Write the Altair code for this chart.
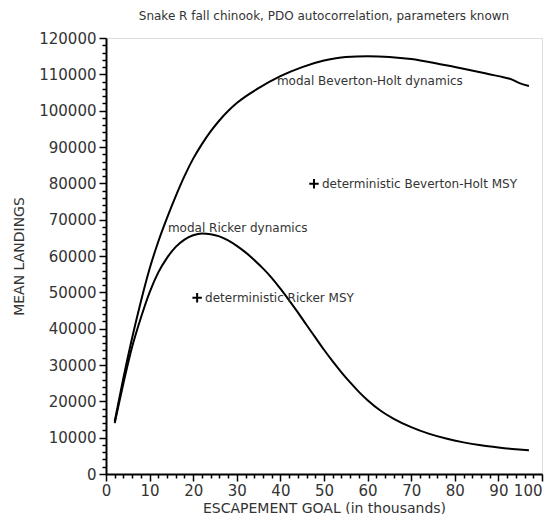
import altair as alt
import pandas as pd

# Beverton-Holt modal dynamics curve
bh_x = [2, 4, 6, 8, 10, 12, 14, 16, 18, 20, 22, 24, 26, 28, 30, 35, 40, 45, 50, 55, 60, 65, 70, 75, 80, 85, 90, 93, 95, 97]
bh_y = [14500, 26500, 37500, 47500, 56500, 64000, 70500, 76500, 82000, 86800, 90800, 94300, 97300, 99900, 102100,
        106200, 109500, 112000, 113800, 114800, 115000, 114800, 114200, 113200, 112000, 110800, 109500, 108600, 107500, 106800]

# Ricker modal dynamics curve
rk_x = [2, 4, 6, 8, 10, 12, 14, 16, 18, 20, 22, 24, 26, 28, 30, 32, 34, 36, 38, 40, 42, 44, 46, 48, 50, 52, 54, 56, 58, 60,
        63, 66, 70, 74, 78, 82, 86, 90, 94, 97]
rk_y = [14000, 25000, 35000, 43000, 50000, 55500, 59500, 62500, 64500, 65700, 66200, 66000, 65400, 64300, 62800, 61000,
        58900, 56600, 54000, 51000, 47800, 44500, 41000, 37600, 34200, 31000, 28000, 25200, 22600, 20300,
        17400, 15200, 12900, 11100, 9750, 8700, 7900, 7300, 6800, 6500]

# deterministic MSY markers
msy_x = [47.7, 20.9]
msy_y = [79900, 48500]
msy_label = ["deterministic Beverton-Holt MSY", "deterministic Ricker MSY"]

# curve labels
lab_x = [39.2, 14.2]
lab_y = [108300, 67800]
lab_text = ["modal Beverton-Holt dynamics", "modal Ricker dynamics"]

x_ticks = list(range(0, 101, 2))
y_ticks = list(range(0, 120001, 2000))

FONT = "DejaVu Sans"
TXT = "#333333"

curves = pd.concat([
    pd.DataFrame({"x": bh_x, "y": bh_y, "model": "Beverton-Holt"}),
    pd.DataFrame({"x": rk_x, "y": rk_y, "model": "Ricker"}),
])
msy = pd.DataFrame({"x": msy_x, "y": msy_y, "label": msy_label})
labs = pd.DataFrame({"x": lab_x, "y": lab_y, "label": lab_text})

xscale = alt.Scale(domain=[0, 100], nice=False, zero=False)
yscale = alt.Scale(domain=[0, 120000], nice=False)

xaxis = alt.Axis(
    values=x_ticks,
    labelExpr="datum.value % 10 === 0 ? datum.label : ''",
    tickSize={"condition": {"test": "datum.value % 10 === 0", "value": 7}, "value": 4},
    labelAlign={"condition": {"test": "datum.value === 100", "value": "right"}, "value": "center"},
    labelOverlap=False,
    labelFlush=False,
    grid=False,
    domainColor="black",
    domainWidth=2,
    tickColor="black",
    tickWidth=1.5,
    labelFont=FONT,
    labelFontSize=15,
    labelColor=TXT,
    labelPadding=2,
    title="ESCAPEMENT GOAL (in thousands)",
    titleFont=FONT,
    titleFontSize=14,
    titleFontWeight="normal",
    titleColor=TXT,
    titlePadding=3,
)
yaxis = alt.Axis(
    values=y_ticks,
    labelExpr="datum.value % 10000 === 0 ? datum.label : ''",
    format="d",
    tickSize={"condition": {"test": "datum.value % 10000 === 0", "value": 7}, "value": 4},
    labelOverlap=False,
    labelFlush=False,
    grid=False,
    domainColor="black",
    domainWidth=2,
    tickColor="black",
    tickWidth=1.5,
    labelFont=FONT,
    labelFontSize=15,
    labelColor=TXT,
    labelPadding=3,
    title="MEAN LANDINGS",
    titleFont=FONT,
    titleFontSize=14,
    titleFontWeight="normal",
    titleColor=TXT,
    titlePadding=12,
)

X = alt.X("x:Q", scale=xscale, axis=xaxis)
Y = alt.Y("y:Q", scale=yscale, axis=yaxis)

lines = alt.Chart(curves).mark_line(color="black", strokeWidth=2, interpolate="monotone").encode(
    x=X, y=Y, detail="model:N",
)

plus = alt.Chart(msy).mark_point(
    shape="M -1 0 L 1 0 M 0 -1 L 0 1", size=90, filled=False, stroke="black", strokeWidth=2, opacity=1
).encode(x=X, y=Y)

msy_text = alt.Chart(msy).mark_text(
    align="left", baseline="middle", dx=8, font=FONT, fontSize=12, color=TXT
).encode(x=X, y=Y, text="label:N")

lab_marks = alt.Chart(labs).mark_text(
    align="left", baseline="middle", font=FONT, fontSize=12, color=TXT
).encode(x=X, y=Y, text="label:N")

chart = alt.layer(lines, plus, msy_text, lab_marks).properties(
    width=436,
    height=436,
    title=alt.TitleParams(
        "Snake R fall chinook, PDO autocorrelation, parameters known",
        font=FONT, fontSize=12, fontWeight="normal", color=TXT, anchor="middle", offset=8,
    ),
    autosize=alt.AutoSizeParams(type="none"),
    padding={"left": 98, "top": 30, "right": 6, "bottom": 40},
).configure_view(stroke="black", strokeWidth=2).configure(background="white")

chart.save("out.html", embed_options={"renderer": "svg", "actions": False})
